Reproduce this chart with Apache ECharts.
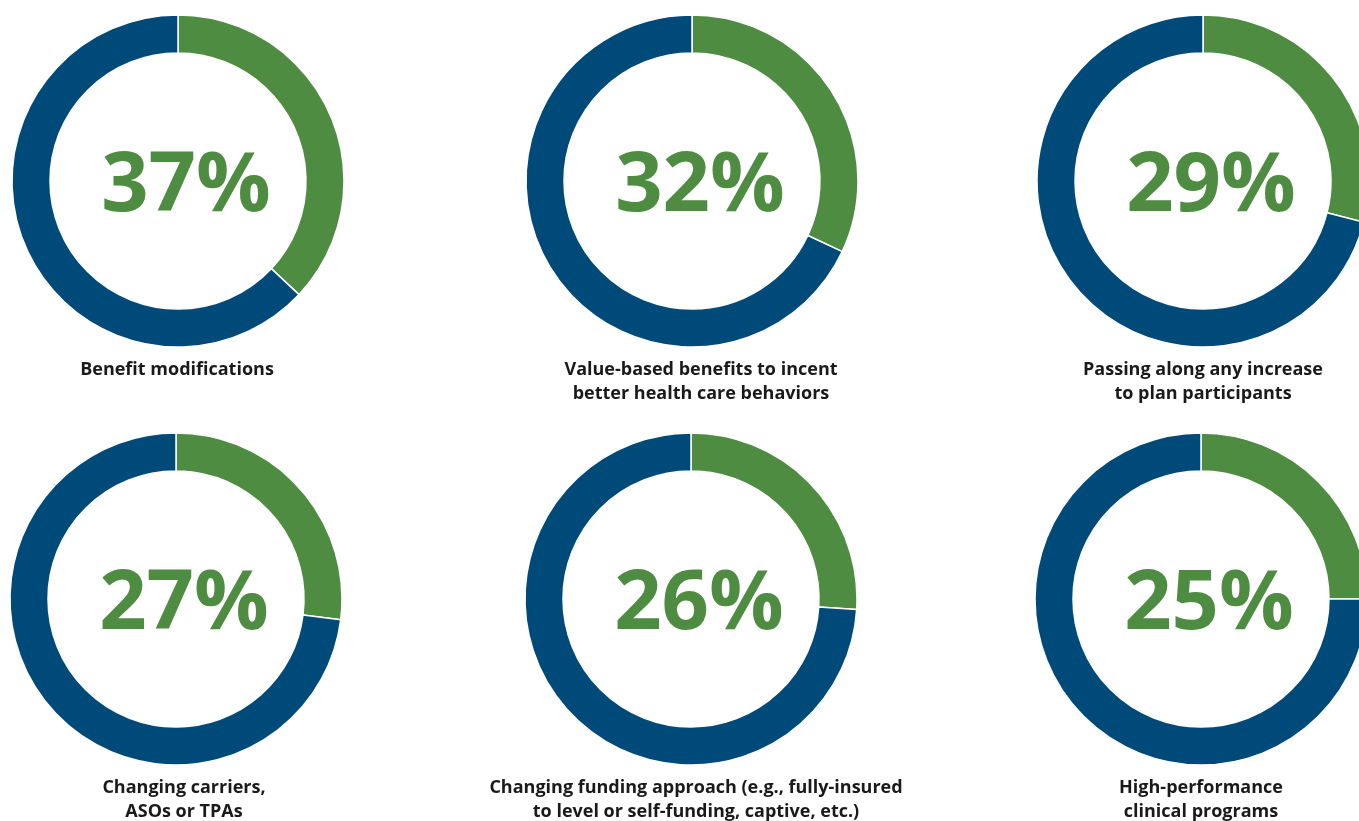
<!DOCTYPE html>
<html>
<head>
<meta charset="utf-8">
<script src="https://cdn.jsdelivr.net/npm/echarts@6/dist/echarts.min.js"></script>
<style>
  html, body { margin: 0; padding: 0; background: #fff; }
  #chart { width: 1359px; height: 821px; }
</style>
</head>
<body>
<div id="chart"></div>
<script>
// share of respondents per strategy (green arc), rest is drawn blue
var categories = [
  'Benefit modifications',
  'Value-based benefits to incent\nbetter health care behaviors',
  'Passing along any increase\nto plan participants',
  'Changing carriers,\nASOs or TPAs',
  'Changing funding approach (e.g., fully-insured\nto level or self-funding, captive, etc.)',
  'High-performance\nclinical programs'
]
var shares = [37, 32, 29, 27, 26, 25]

var colors = { green: '#4e8c41', blue: '#004a7a', text: '#1a1a1a' }

// layout: donut centres and caption x positions (px)
var centers = [[178, 181], [692, 181], [1203, 181], [176, 599], [691, 599], [1201, 599]]
var captionX = [177, 701, 1203, 184, 696, 1201]

var chart = echarts.init(document.getElementById('chart'))

var series = []
var graphics = []
shares.forEach(function (v, i) {
  var c = centers[i]
  series.push({
    type: 'pie',
    center: c,
    radius: [128, 166],
    startAngle: 90,
    clockwise: true,
    silent: true,
    label: { show: false },
    labelLine: { show: false },
    emphasis: { disabled: true },
    itemStyle: { borderColor: '#fff', borderWidth: 1.5 },
    data: [
      { name: 'yes', value: v, itemStyle: { color: colors.green } },
      { name: 'no', value: 100 - v, itemStyle: { color: colors.blue } }
    ]
  })
  graphics.push({
    type: 'text',
    x: c[0] + 8,
    y: c[1] + 6,
    silent: true,
    style: {
      text: v + '%',
      fill: colors.green,
      font: 'bold 83px "Open Sans"',
      textAlign: 'center',
      textVerticalAlign: 'middle'
    }
  })
  graphics.push({
    type: 'text',
    x: captionX[i],
    y: c[1] + 177,
    silent: true,
    style: {
      text: categories[i],
      fill: colors.text,
      font: 'bold 18px "Open Sans"',
      lineHeight: 24,
      textAlign: 'center',
      textVerticalAlign: 'top'
    }
  })
})

chart.setOption({
  animation: false,
  series: series,
  graphic: graphics
})
</script>
</body>
</html>
